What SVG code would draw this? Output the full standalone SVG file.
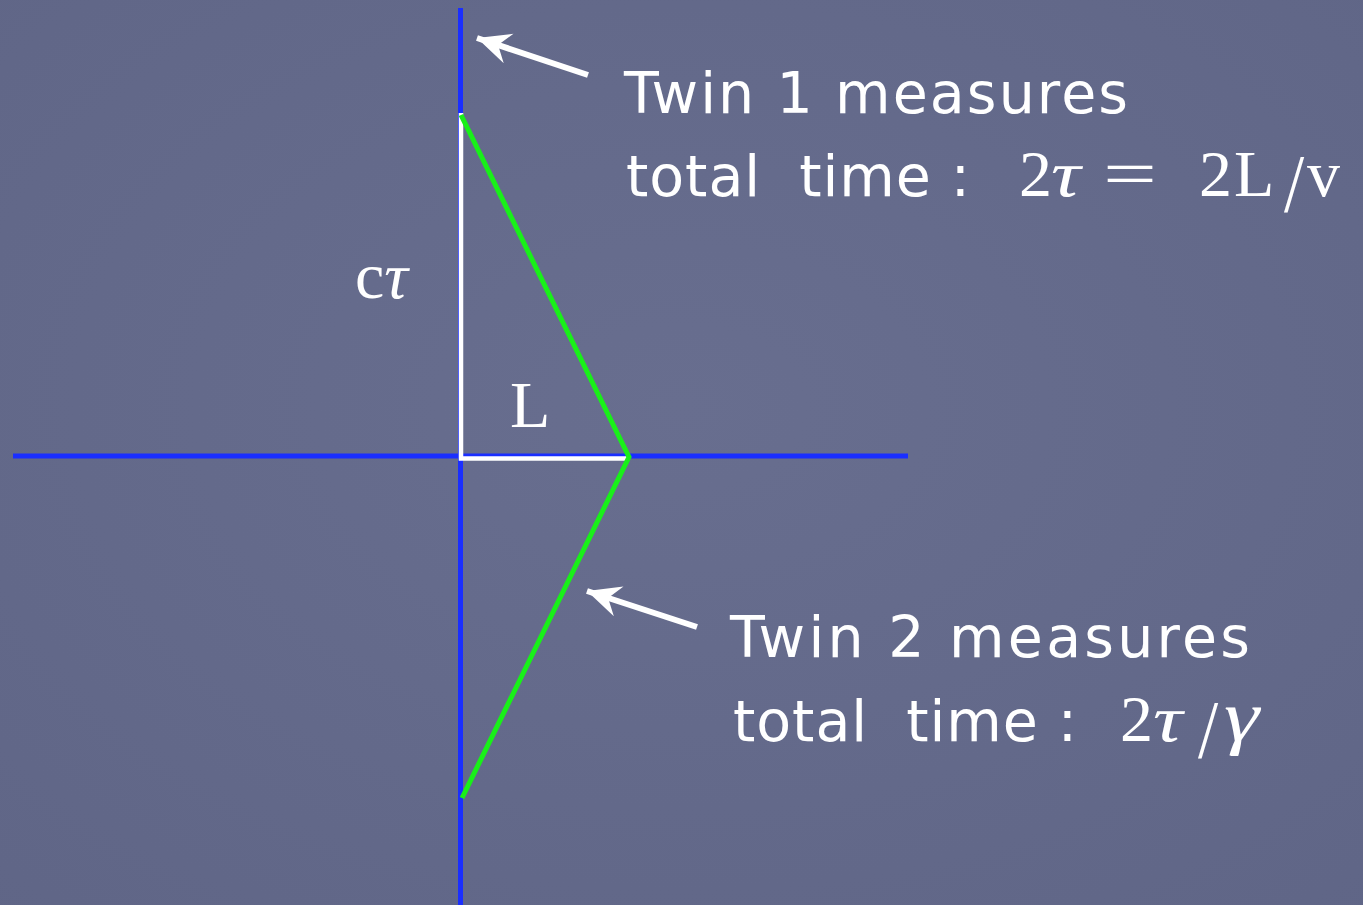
<svg xmlns="http://www.w3.org/2000/svg" width="1363" height="905" viewBox="0 0 1363 905">
<defs>
<style>
.lbl{font-family:"DejaVu Sans","Open Sans",sans-serif;font-size:57px;fill:#ffffff;white-space:pre}
.math{font-family:"Liberation Serif","DejaVu Serif",serif;fill:#ffffff;font-size:66px}
.it{font-style:italic}
.blue{stroke:#1a2eff;stroke-width:5;fill:none}
.white{stroke:#ffffff;stroke-width:4.5;fill:none}
.green{stroke:#19f019;stroke-width:5;fill:none;stroke-linejoin:miter}
.arrow{stroke:#ffffff;stroke-width:6;fill:none;marker-end:url(#head)}
</style>
<marker id="head" markerUnits="userSpaceOnUse" markerWidth="40" markerHeight="40" viewBox="-32 -16 36 32" refX="0" refY="0" orient="auto">
<path d="M0,0 L-30,-14 L-20,0 L-30,14 Z" fill="#ffffff"/>
</marker>
<radialGradient id="bg" cx="0.5" cy="0.45" r="0.8">
<stop offset="0" stop-color="#686e8f"/>
<stop offset="1" stop-color="#5f6586"/>
</radialGradient>
</defs>
<rect x="0" y="0" width="1363" height="905" fill="url(#bg)"/>
<g id="axes">
<line class="blue" x1="460.5" y1="8" x2="460.5" y2="905"/>
<line class="blue" x1="13" y1="456" x2="908" y2="456"/>
</g>
<g id="triangle">
<polyline class="white" points="461,113 461,458.5 629,458.5"/>
</g>
<g id="worldline">
<polyline class="green" points="461,115 629,457 462,798"/>
</g>
<g id="connectors">
<line class="arrow" x1="588" y1="75" x2="477" y2="38"/>
<line class="arrow" x1="697" y1="627" x2="587" y2="591"/>
</g>
<g id="label-ctau">
<text class="math" x="355" y="298" font-size="72">c<tspan class="it">τ</tspan></text>
</g>
<g id="label-L">
<text class="math" x="510" y="427" font-size="75">L</text>
</g>
<g id="twin1">
<text class="lbl" x="624" y="113" textLength="504">Twin 1 measures</text>
<text class="lbl" x="626" y="196" textLength="344">total  time :</text>
<text class="math" x="1019" y="196">2</text>
<text class="math it" transform="translate(1051,196) scale(1.25,1)">τ</text>
<text class="math" transform="translate(1103,196) scale(1.45,1)">=</text>
<text class="math" x="1199" y="196">2</text>
<text class="math" x="1234" y="196">L</text>
<text class="math" transform="translate(1284,211) scale(1.1,1.25)">/</text>
<text class="math" x="1307" y="196">v</text>
</g>
<g id="twin2">
<text class="lbl" x="730" y="657" textLength="520">Twin 2 measures</text>
<text class="lbl" x="733" y="741" textLength="344">total  time :</text>
<text class="math" x="1120" y="741">2</text>
<text class="math it" transform="translate(1153,741) scale(1.25,1)">τ</text>
<text class="math" transform="translate(1198,757) scale(1.1,1.25)">/</text>
<text class="math it" transform="translate(1224,741) scale(1.35,1.1)">γ</text>
</g>
</svg>
